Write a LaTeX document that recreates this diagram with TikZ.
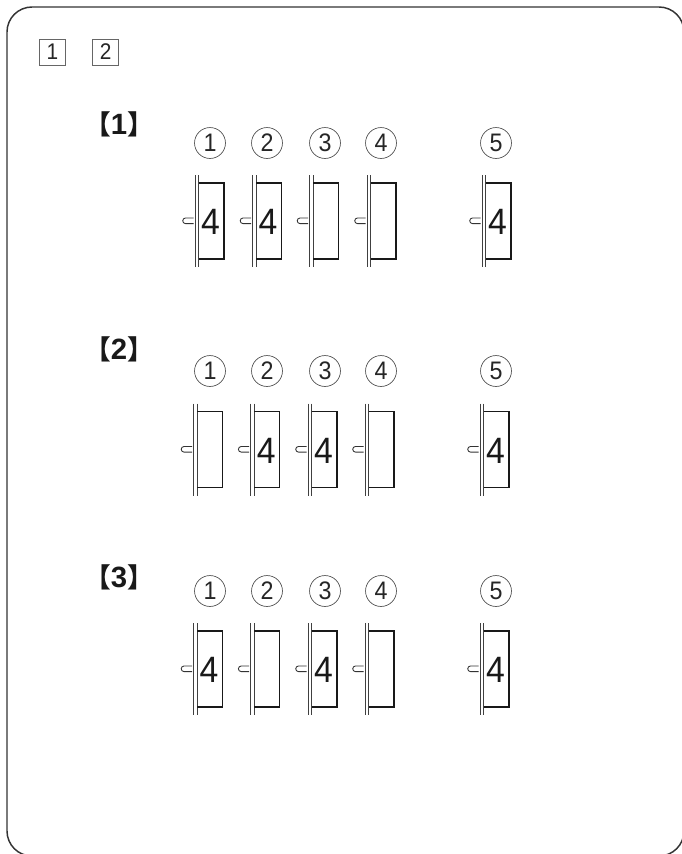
\documentclass[tikz,border=0pt]{standalone}
\usepackage{fontspec}
\setmainfont{Liberation Sans}
\newfontfamily\narrowsans[FakeStretch=0.92]{Liberation Sans}
\newfontfamily\cjk{Noto Sans CJK JP}
\newfontfamily\tagdigit{Liberation Sans}
\tikzset{
  frameline/.style={draw=black!80,line width=1.1pt},
  railline/.style={draw=black!75,line width=0.7pt},
  boxline/.style={draw=black!90,line width=1.15pt},
  knobline/.style={draw=black!80,line width=0.65pt},
  circlabel/.style={circle,draw=black!70,line width=0.5pt,minimum size=23.2pt,inner sep=0pt,text=black!85,font=\narrowsans\fontsize{19}{19}\selectfont},
  sqlabel/.style={rectangle,draw=black!60,line width=0.6pt,minimum size=19.5pt,inner sep=0pt,text=black!85,font=\narrowsans\fontsize{17}{17}\selectfont},
  grouplabel/.style={inner sep=0pt,text=black!90,font=\cjk\bfseries\fontsize{20}{20}\selectfont},
  tilefour/.style={inner sep=0pt,text=black!90,font=\narrowsans\fontsize{27.5}{27.5}\selectfont},
}
% #1 x of rail, #2 y of rail top, #3 text
\newcommand{\tilepiece}[3]{%
  \draw[railline] (#1,#2) -- (#1,#2+92);
  \draw[railline] (#1+3.6,#2) -- (#1+3.6,#2+92);
  \draw[boxline] (#1+3.6,#2+8) -- (#1+29,#2+8) -- (#1+29,#2+84) -- (#1+3.6,#2+84);
  \draw[knobline] (#1-1.5,#2+43) -- (#1-9.5,#2+43) arc[start angle=270,end angle=90,radius=2.8] -- (#1-1.5,#2+48.6);
  \node[tilefour] at (#1+15.5,#2+47) {#3};
}
\newcommand{\circrow}[2]{%
  \node[circlabel] (c#21) at (210,#1) {1};
  \node[circlabel] (c#22) at (267,#1) {2};
  \node[circlabel] (c#23) at (325,#1) {3};
  \node[circlabel] (c#24) at (381,#1) {4};
  \node[circlabel] (c#25) at (496,#1) {5};
}
\newcommand{\grouptag}[2]{\node[grouplabel] (g#2) at (119,#1) {【{\tagdigit\bfseries\fontsize{22}{22}\selectfont #2}】};}
\begin{document}
\begin{tikzpicture}[x=0.75pt,y=-0.75pt]
\useasboundingbox (0,0) rectangle (682,854);
\draw[frameline] (7,831) -- (7,32) arc[start angle=180,end angle=270,radius=25]
  -- (659,7) arc[start angle=270,end angle=360,radius=25] -- (684,831)
  arc[start angle=0,end angle=90,radius=25] -- (32,856)
  arc[start angle=90,end angle=180,radius=25] -- cycle;
\node[sqlabel] (s1) at (52.5,52) {1};
\node[sqlabel] (s2) at (105.7,52) {2};
\grouptag{124.5}{1}
\grouptag{349}{2}
\grouptag{577}{3}
\circrow{143}{a}
\circrow{371}{b}
\circrow{591}{c}
% group 1
\tilepiece{195}{175}{4}
\tilepiece{252.5}{175}{4}
\tilepiece{309.5}{175}{}
\tilepiece{367}{175}{}
\tilepiece{482}{175}{4}
% group 2
\tilepiece{193.5}{403.5}{}
\tilepiece{250.7}{403.5}{4}
\tilepiece{308}{403.5}{4}
\tilepiece{365}{403.5}{}
\tilepiece{480}{403.5}{4}
% group 3
\tilepiece{193.5}{623}{4}
\tilepiece{250.7}{623}{}
\tilepiece{308}{623}{4}
\tilepiece{365}{623}{}
\tilepiece{480}{623}{4}
\end{tikzpicture}
\end{document}
